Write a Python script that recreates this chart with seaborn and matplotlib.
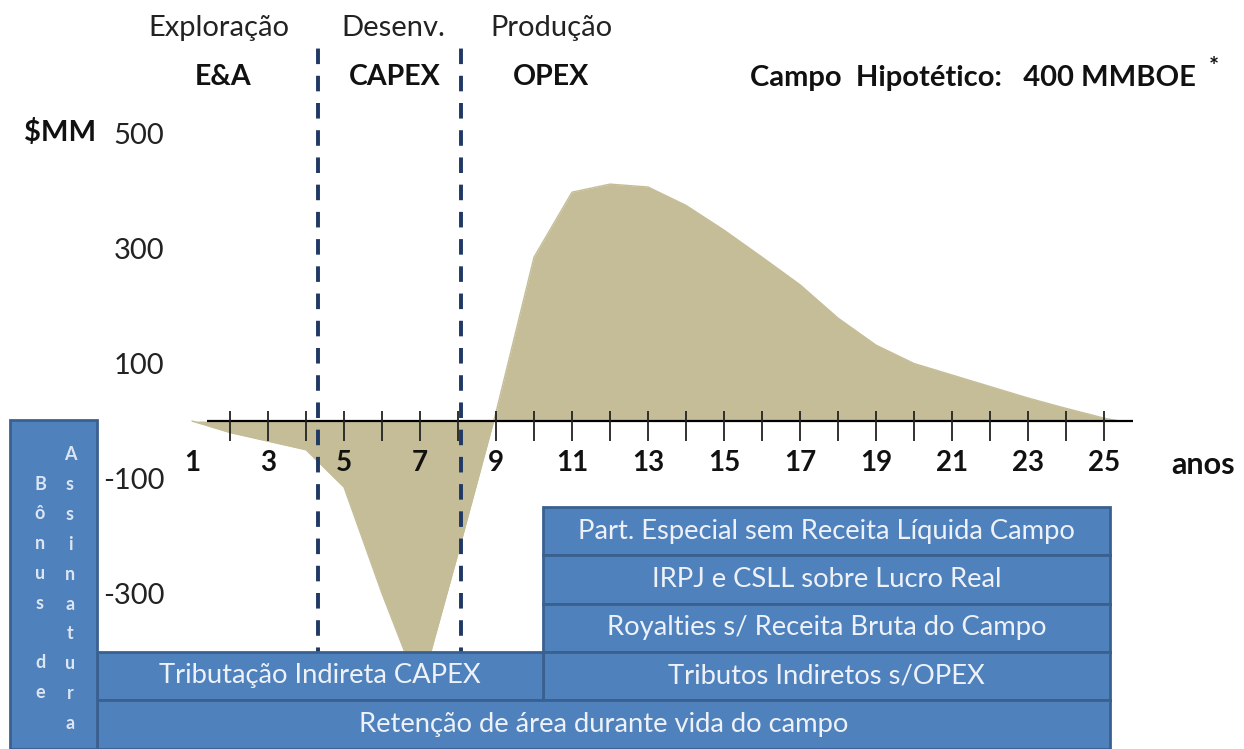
import matplotlib.pyplot as plt
import seaborn as sns
from matplotlib.patches import Rectangle

# fluxo de caixa do campo hipotético ($MM por ano)
years = [1, 2, 3, 4, 5, 6, 7, 8, 9, 10, 11, 12, 13, 14, 15, 16, 17, 18, 19, 20, 21, 22, 23, 24, 25, 25.4]
cash_flow = [0, -20, -35, -50, -115, -300, -470, -230, 15, 285, 398, 412, 407, 375,
             332, 285, 237, 179, 132, 100, 80, 60, 40, 22, 5, 0]
tick_years = list(range(2, 26))
label_years = list(range(1, 26, 2))
y_ticks = [500, 300, 100, -100, -300]
phase_limits = [4.32, 8.08]
phase_names = ['Exploração', 'Desenv.', 'Produção']
phase_costs = ['E&A', 'CAPEX', 'OPEX']
tax_labels = ['Part. Especial sem Receita Líquida Campo', 'IRPJ e CSLL sobre Lucro Real',
              'Royalties s/ Receita Bruta do Campo', 'Tributos Indiretos s/OPEX',
              'Tributação Indireta CAPEX', 'Retenção de área durante vida do campo']

W, H = 1244, 749
FILL = '#C4BD97'
BLUE = '#4F81BD'
EDGE = '#3A6090'
NAVY = '#1F3864'

sns.set_theme(style='white')
plt.rcParams['font.family'] = ['Lato', 'DejaVu Sans']

fig = plt.figure(figsize=(W / 100, H / 100), dpi=100)
ax = fig.add_axes([170 / W, 0, (W - 170) / W, 1])
ax.set_xlim(0.421, 28.684)
ax.set_ylim(-570.4, 732.2)
ax.set_axisbelow(False)

# curva de fluxo de caixa
ax.fill_between(years, cash_flow, 0, color=FILL, lw=0, zorder=2)
sns.lineplot(x=years, y=cash_flow, color=FILL, lw=1, ax=ax, zorder=2)

# eixo dos anos
ax.hlines(0, 1.4, 25.76, color='black', lw=1.6, zorder=3)
ax.vlines(tick_years, -35, 17, color='#222222', lw=1.3, zorder=3)

# divisões de fases
ax.vlines(phase_limits, -420, 666, color=NAVY, lw=2.8, linestyles=(0, (4, 3)), zorder=4)

for s in ax.spines.values():
    s.set_visible(False)
ax.spines['bottom'].set_position(('data', 0))
ax.set_yticks(y_ticks)
ax.set_yticklabels([str(v) for v in y_ticks], fontsize=21, color='#222222')
ax.set_xticks(label_years)
ax.set_xticklabels([str(v) for v in label_years], fontsize=20, fontweight='bold', color='#111111')
ax.tick_params(axis='y', length=0, pad=4)
ax.tick_params(axis='x', length=0, pad=21)

# títulos das fases
phase_x = [1.71, 6.29, 10.47]
cost_x = [1.82, 6.34, 10.45]
for x, name in zip(phase_x, phase_names):
    ax.text(x, 683, name, ha='center', va='center', fontsize=21, color='#222222')
for x, name in zip(cost_x, phase_costs):
    ax.text(x, 598, name, ha='center', va='center', fontsize=20.5, fontweight='bold', color='#111111')

fig.text(750 / W, 1 - 78 / H, 'Campo  Hipotético:   400 MMBOE', ha='left', va='center',
         fontsize=21, fontweight='bold', color='#111111')
fig.text(1214 / W, 1 - 68 / H, '*', ha='center', va='center', fontsize=17, fontweight='bold', color='#111111')
fig.text(60 / W, 1 - 133 / H, '$MM', ha='center', va='center', fontsize=21, fontweight='bold', color='#111111')
fig.text(1203 / W, 1 - 465 / H, 'anos', ha='center', va='center', fontsize=22, fontweight='bold', color='#111111')

# caixas de tributos (pixels da figura)
rows = [(543, 1110, 507, 555), (543, 1110, 555, 604), (543, 1110, 604, 652),
        (543, 1110, 652, 700), (97, 543, 652, 700), (97, 1110, 700, 749)]


def add_box(x0, x1, y0, y1, label=None, size=19.7):
    rect = Rectangle((x0 / W, 1 - y1 / H), (x1 - x0) / W, (y1 - y0) / H,
                     transform=fig.transFigure, facecolor=BLUE, edgecolor=EDGE, lw=2, zorder=5)
    fig.add_artist(rect)
    if label:
        fig.text((x0 + x1) / 2 / W, 1 - (y0 + y1) / 2 / H, label, ha='center', va='center',
                 fontsize=size, color='#EEF2F8', zorder=6)


for (x0, x1, y0, y1), label in zip(rows, tax_labels):
    add_box(x0, x1, y0, y1, label)

# bônus de assinatura (texto vertical)
add_box(10, 97, 420, 749)
col_a = 'Assinatura'
col_b = ['B', 'ô', 'n', 'u', 's', '', 'd', 'e']
for i, ch in enumerate(col_a):
    fig.text(70 / W, 1 - (455 + i * 29.8) / H, ch, ha='center', va='center',
             fontsize=13, fontweight='bold', color='#DCE6F2', zorder=6)
for i, ch in enumerate(col_b):
    fig.text(40 / W, 1 - (484 + i * 29.8) / H, ch, ha='center', va='center',
             fontsize=13, fontweight='bold', color='#DCE6F2', zorder=6)

plt.savefig('out.png', dpi=100)
plt.close()
